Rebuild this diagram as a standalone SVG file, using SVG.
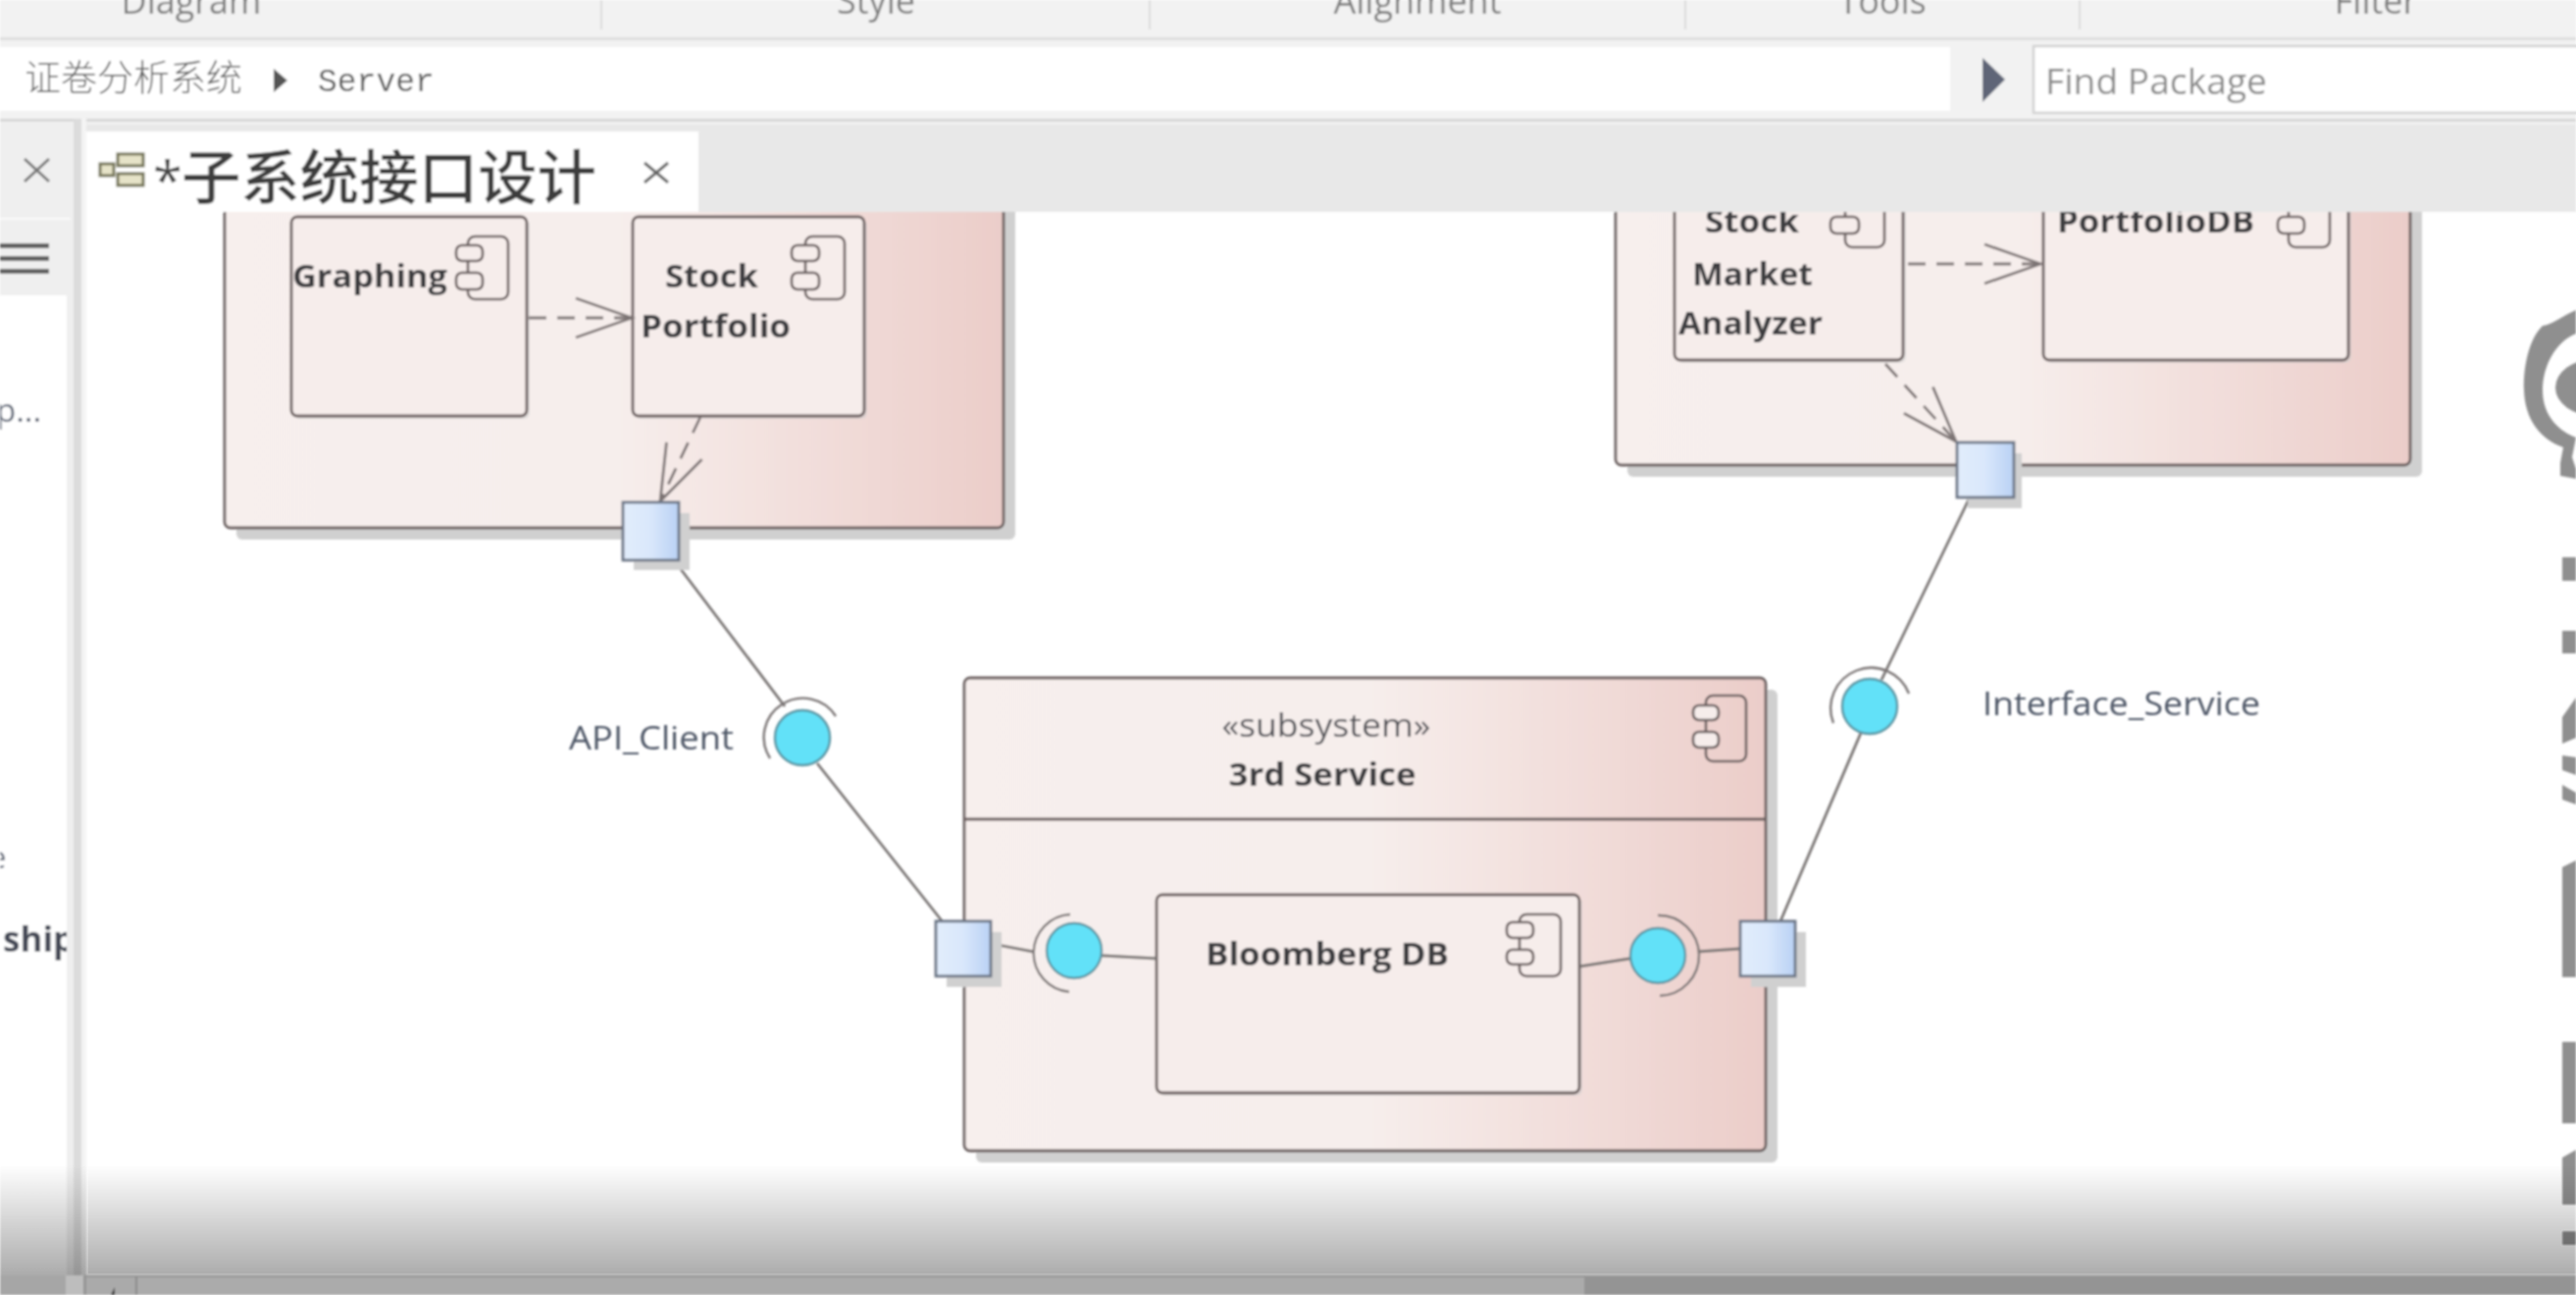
<svg xmlns="http://www.w3.org/2000/svg" width="2626" height="1320" viewBox="0 0 2626 1320">
<style>
text{font-family:"Open Sans","Noto Sans","Noto Sans CJK SC",sans-serif}
.box{stroke:#6a5f5f;stroke-width:2.8}
.outer{fill:url(#pink)}
.inner{fill:#f6edeb}
.shadow{fill:#d0d0d0}
.name{font-weight:700;font-size:33px;fill:#3e3c40}
.label{font-size:33px;fill:#4e5666}
.icon{fill:none;stroke:#6a5f5f;stroke-width:2.6}
.iconb{fill:#f6edeb;stroke:#6a5f5f;stroke-width:2.6}
.port{fill:url(#blue);stroke:#6c7686;stroke-width:2.8}
.ball{fill:#62e1f8;stroke:#5c95a3;stroke-width:2.4}
.arc{fill:none;stroke:#7b7676;stroke-width:2.4}
.solid{fill:none;stroke:#7a7675;stroke-width:2.8}
.dash{fill:none;stroke:#7d7474;stroke-width:2.8;stroke-dasharray:18 11;marker-end:url(#open)}
.ui{font-size:36px;fill:#7d7d7d}
.sep{stroke:#dcdcdc;stroke-width:2}
.wm{fill:#8f8f8f}
</style>
<defs>
<linearGradient id="pink" x1="0" y1="0" x2="1" y2="0">
<stop offset="0" stop-color="#f7efed"/><stop offset=".5" stop-color="#f6eeec"/><stop offset=".75" stop-color="#f2dedb"/><stop offset="1" stop-color="#ebcdc9"/>
</linearGradient>
<linearGradient id="blue" x1="0" y1="0" x2="1" y2="0">
<stop offset="0" stop-color="#e2edfc"/><stop offset=".5" stop-color="#d9e7fb"/><stop offset="1" stop-color="#b9d1f4"/>
</linearGradient>
<linearGradient id="fade" x1="0" y1="0" x2="0" y2="1">
<stop offset="0" stop-color="#000" stop-opacity="0"/><stop offset="1" stop-color="#000" stop-opacity=".33"/>
</linearGradient>
<marker id="open" markerUnits="userSpaceOnUse" markerWidth="70" markerHeight="50" refX="60" refY="25" orient="auto">
<path d="M3 5 L60 25 L3 45" fill="none" stroke="#7d7474" stroke-width="2.8"/>
</marker>
<clipPath id="paneclip"><rect x="0" y="301" width="68" height="1000"/></clipPath>
<filter id="soft" x="0" y="0" width="100%" height="100%"><feGaussianBlur stdDeviation="0.9"/></filter>
</defs>
<rect width="2626" height="1320" fill="#fff"/>
<g filter="url(#soft)">
<g id="watermark">
<path class="wm" d="M2626 316 C2612 322 2600 332 2592 332 C2578 345 2572 375 2573 398 C2574 428 2590 448 2613 456 L2610 472 L2610 485 L2626 488 L2626 478 L2622 466 L2626 446 C2610 440 2592 425 2592 398 C2592 372 2606 348 2626 340 Z"/>
<ellipse class="wm" cx="2645" cy="395" rx="40" ry="29"/>
<rect class="wm" x="2612" y="568" width="14" height="24"/>
<rect class="wm" x="2612" y="643" width="14" height="23"/>
<path class="wm" d="M2612 731 L2626 711 L2626 752 L2612 758 Z M2612 770 L2626 772 L2626 790 L2612 785 Z M2612 800 L2626 808 L2626 820 L2612 815 Z"/>
<path class="wm" d="M2612 884 L2626 877 L2626 996 L2612 996 Z"/>
<rect class="wm" x="2612" y="1062" width="14" height="83"/>
<path class="wm" d="M2612 1180 L2626 1172 L2626 1228 L2612 1228 Z"/>
<rect class="wm" x="2612" y="1255" width="14" height="14"/>
</g>

<g id="subsystem-client">
<rect class="shadow" x="241" y="120" width="794" height="430" rx="6"/>
<rect class="box outer" x="229" y="108" width="794" height="430" rx="6"/>
</g>
<g id="graphing">
<rect class="shadow" x="300" y="224" width="240" height="203" rx="6" opacity=".5"/>
<rect class="box inner" x="297" y="221" width="240" height="203" rx="6"/>
<rect class="icon" x="477" y="241" width="41" height="64" rx="7"/>
<rect class="iconb" x="465" y="250" width="27" height="16" rx="6"/>
<rect class="iconb" x="465" y="278" width="27" height="17" rx="6"/>
<text class="name" x="298" y="293" textLength="158" lengthAdjust="spacingAndGlyphs">Graphing</text>
</g>
<g id="stock-portfolio">
<rect class="shadow" x="648" y="224" width="236" height="203" rx="6" opacity=".5"/>
<rect class="box inner" x="645" y="221" width="236" height="203" rx="6"/>
<rect class="icon" x="821" y="241" width="40" height="64" rx="7"/>
<rect class="iconb" x="807" y="250" width="28" height="16" rx="6"/>
<rect class="iconb" x="807" y="278" width="28" height="17" rx="6"/>
<text class="name" x="678" y="293" textLength="95" lengthAdjust="spacingAndGlyphs">Stock</text>
<text class="name" x="653" y="344" textLength="153" lengthAdjust="spacingAndGlyphs">Portfolio</text>
</g>

<g id="subsystem-server">
<rect class="shadow" x="1659" y="120" width="810" height="366" rx="6"/>
<rect class="box outer" x="1647" y="108" width="810" height="366" rx="6"/>
</g>
<g id="stock-market-analyzer">
<rect class="shadow" x="1710" y="170" width="233" height="200" rx="6" opacity=".5"/>
<rect class="box inner" x="1707" y="167" width="233" height="200" rx="6"/>
<rect class="icon" x="1881" y="188" width="40" height="64" rx="7"/>
<rect class="iconb" x="1866" y="195" width="29" height="16" rx="6"/>
<rect class="iconb" x="1866" y="221" width="29" height="17" rx="6"/>
<text class="name" x="1738" y="237" textLength="96" lengthAdjust="spacingAndGlyphs">Stock</text>
<text class="name" x="1725" y="291" textLength="123" lengthAdjust="spacingAndGlyphs">Market</text>
<text class="name" x="1711" y="341" textLength="147" lengthAdjust="spacingAndGlyphs">Analyzer</text>
</g>
<g id="portfoliodb">
<rect class="shadow" x="2086" y="170" width="311" height="200" rx="6" opacity=".5"/>
<rect class="box inner" x="2083" y="167" width="311" height="200" rx="6"/>
<rect class="icon" x="2333" y="188" width="42" height="64" rx="7"/>
<rect class="iconb" x="2322" y="195" width="27" height="16" rx="6"/>
<rect class="iconb" x="2322" y="221" width="27" height="17" rx="6"/>
<text class="name" x="2097" y="237" textLength="201" lengthAdjust="spacingAndGlyphs">PortfolioDB</text>
</g>

<g id="subsystem-3rd-service">
<rect class="shadow" x="995" y="703" width="817" height="482" rx="6"/>
<rect class="box outer" x="983" y="691" width="817" height="482" rx="6"/>
<line class="box" x1="983" y1="835" x2="1800" y2="835"/>
<rect class="icon" x="1739" y="709" width="41" height="67" rx="7"/>
<rect class="iconb" x="1726" y="719" width="26" height="15" rx="6"/>
<rect class="iconb" x="1726" y="746" width="26" height="16" rx="6"/>
<text x="1352" y="751" font-size="33" fill="#4f4f55" text-anchor="middle" textLength="213" lengthAdjust="spacingAndGlyphs">«subsystem»</text>
<text class="name" x="1348" y="801" text-anchor="middle" textLength="191" lengthAdjust="spacingAndGlyphs">3rd Service</text>
</g>
<g id="bloomberg-db">
<rect class="shadow" x="1182" y="915" width="431" height="202" rx="6" opacity=".5"/>
<rect class="box inner" x="1179" y="912" width="431" height="202" rx="6"/>
<rect class="icon" x="1549" y="932" width="42" height="63" rx="7"/>
<rect class="iconb" x="1536" y="940" width="27" height="16" rx="6"/>
<rect class="iconb" x="1536" y="968" width="27" height="15" rx="6"/>
<text class="name" x="1229" y="984" textLength="248" lengthAdjust="spacingAndGlyphs">Bloomberg DB</text>
</g>

<g id="connectors">
<path class="dash" d="M539 324 L644 324"/>
<path class="dash" d="M714 425 L673 511"/>
<path class="dash" d="M1945 269 L2080 269"/>
<path class="dash" d="M1922 371 L1994 450"/>
<path class="solid" d="M687 571 L800 720"/>
<path class="solid" d="M833 778 L962 941"/>
<path class="solid" d="M2008 507 L1918 693"/>
<path class="solid" d="M1897 747 L1815 939"/>
<path class="solid" d="M1011 962 L1053 970"/>
<path class="solid" d="M1123 974 L1179 977"/>
<path class="solid" d="M1611 985 L1662 977"/>
<path class="solid" d="M1731 970 L1774 967"/>
</g>

<g id="port-client"><rect class="shadow" x="646" y="523" width="57" height="58"/><rect class="port" x="635" y="512" width="57" height="59"/></g>
<g id="port-server"><rect class="shadow" x="2006" y="462" width="55" height="56"/><rect class="port" x="1995" y="451" width="58" height="56"/></g>
<g id="port-service-left"><rect class="shadow" x="965" y="950" width="56" height="56"/><rect class="port" x="954" y="939" width="56" height="56"/></g>
<g id="port-service-right"><rect class="shadow" x="1785" y="950" width="56" height="56"/><rect class="port" x="1774" y="939" width="56" height="56"/></g>

<g id="interface-api-client">
<path class="arc" d="M785 773 A39 39 0 0 1 852 730"/>
<circle class="ball" cx="818" cy="752" r="28"/>
<text class="label" x="580" y="764" textLength="168" lengthAdjust="spacingAndGlyphs">API_Client</text>
</g>
<g id="interface-service">
<path class="arc" d="M1869 737 A41 41 0 0 1 1946 707"/>
<circle class="ball" cx="1906" cy="720" r="28"/>
<text class="label" x="2021" y="729" textLength="283" lengthAdjust="spacingAndGlyphs">Interface_Service</text>
</g>
<g id="interface-left">
<path class="arc" d="M1091 932 A39.6 39.6 0 0 0 1090 1011"/>
<circle class="ball" cx="1095" cy="969" r="28"/>
</g>
<g id="interface-right">
<path class="arc" d="M1690 933 A41 41 0 0 1 1692 1015"/>
<circle class="ball" cx="1690" cy="974" r="28"/>
</g>

<g id="chrome">
<rect x="0" y="0" width="2626" height="46" fill="#f2f2f2"/>
<rect x="0" y="38" width="2626" height="3" fill="#dedede"/>
<rect x="0" y="41" width="2626" height="80" fill="#f2f2f2"/>
<g class="ui" text-anchor="middle">
<text x="195" y="14">Diagram</text>
<text x="893" y="14">Style</text>
<text x="1445" y="14">Alignment</text>
<text x="1919" y="14">Tools</text>
<text x="2422" y="14">Filter</text>
</g>
<line class="sep" x1="613" y1="0" x2="613" y2="30"/>
<line class="sep" x1="1172" y1="0" x2="1172" y2="30"/>
<line class="sep" x1="1718" y1="0" x2="1718" y2="30"/>
<line class="sep" x1="2120" y1="0" x2="2120" y2="30"/>
<rect x="0" y="48" width="1988" height="65" fill="#fff"/>
<text x="25" y="93" font-size="37" fill="#5e5e5e" style="font-family:'Noto Sans CJK SC',sans-serif" font-weight="300">证卷分析系统</text>
<path d="M279 70 L293 82 L279 94 Z" fill="#555"/>
<text x="324" y="93" font-size="33" fill="#5a5a5a" style="font-family:'Liberation Mono',monospace">Server</text>
<path d="M2021 59 L2044 81 L2021 104 Z" fill="#5f6577"/>
<rect x="2073" y="47" width="560" height="68" fill="#fff" stroke="#d2d2d2" stroke-width="2.5"/>
<text x="2085" y="96" font-size="37" fill="#8a8a8a" textLength="226" lengthAdjust="spacingAndGlyphs">Find Package</text>
<rect x="0" y="121" width="2626" height="3" fill="#d8d8d8"/>
<rect x="0" y="124" width="2626" height="3" fill="#f0f0f0"/>
<rect x="88" y="127" width="2538" height="89" fill="#e8e8e8"/>
<rect x="88" y="134" width="624" height="82" fill="#fff"/>
<g id="tab-icon" fill="none" stroke="#77775a" stroke-width="3">
<rect x="120" y="157" width="26" height="12" fill="#e6e3c8"/>
<rect x="120" y="177" width="26" height="12" fill="#e6e3c8"/>
<rect x="102" y="167" width="14" height="12" fill="#e6e3c8"/>
</g>
<text x="156" y="204" font-size="54" fill="#444">*</text>
<text x="185" y="203" font-size="60" font-weight="500" fill="#3c3c3c" style="font-family:'Noto Sans CJK SC',sans-serif" textLength="423" lengthAdjust="spacingAndGlyphs">子系统接口设计</text>
<path d="M657 166 L681 186 M681 166 L657 186" stroke="#666" stroke-width="3" fill="none"/>
<rect x="0" y="127" width="75" height="1175" fill="#efefef"/>
<rect x="75" y="121" width="8" height="1180" fill="#dcdcdc"/>
<rect x="83" y="121" width="5" height="1180" fill="#f4f4f4"/>
<rect x="0" y="222" width="72" height="2" fill="#fafafa"/>
<path d="M25 162 L50 185 M50 162 L25 185" stroke="#777" stroke-width="3" fill="none"/>
<rect x="0" y="248" width="50" height="5" fill="#626262"/>
<rect x="0" y="261" width="50" height="5" fill="#626262"/>
<rect x="0" y="274" width="50" height="5" fill="#626262"/>
<rect x="0" y="301" width="68" height="1000" fill="#fff"/>
<g clip-path="url(#paneclip)">
<text x="-4" y="430" font-size="33" fill="#5a6374">p...</text>
<text x="-11" y="885" font-size="31" fill="#5a6374">e</text>
<text x="3" y="970" font-size="35" font-weight="700" fill="#444a56">ship</text>
</g>
</g>

<g id="fade-overlay">
<rect x="0" y="1187" width="2626" height="114" fill="url(#fade)"/>
<rect x="0" y="1300" width="2626" height="20" fill="#949494"/>
<rect x="139" y="1302" width="1476" height="18" fill="#ababab"/>
<rect x="0" y="1300" width="67" height="20" fill="#a6a6a6"/>
<rect x="67" y="1300" width="18" height="20" fill="#bdbdbd"/>
<rect x="88" y="1302" width="51" height="18" fill="#aaaaaa"/>
<path d="M117 1320 L113 1320 L117 1312 Z" fill="#333"/>
<line x1="139" y1="1302" x2="139" y2="1320" stroke="#8a8a8a" stroke-width="2"/>
</g>
</g>
</svg>
